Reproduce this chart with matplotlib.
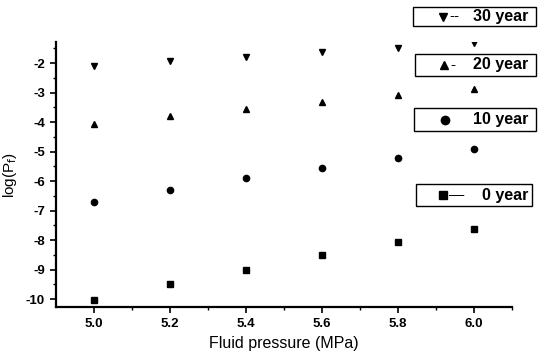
import numpy as np
import matplotlib.pyplot as plt
from matplotlib.patches import Rectangle
from matplotlib.lines import Line2D

plt.rcParams['font.family'] = ['Liberation Sans', 'DejaVu Sans']

pressure = [5.0, 5.2, 5.4, 5.6, 5.8, 6.0]
y30 = [-2.1, -1.93, -1.8, -1.63, -1.48, -1.31]
y20 = [-4.07, -3.8, -3.55, -3.3, -3.07, -2.87]
y10 = [-6.7, -6.3, -5.9, -5.57, -5.22, -4.9]
y0 = [-10.03, -9.5, -9.03, -8.52, -8.05, -7.62]
xticks = [5.0, 5.2, 5.4, 5.6, 5.8, 6.0]
yticks = [-10, -9, -8, -7, -6, -5, -4, -3, -2]

W, H = 541, 355
def fx(p):
    return p / W
def fy(p):
    return 1 - p / H

fig = plt.figure(figsize=(5.41, 3.55), dpi=100)
ax = fig.add_axes([fx(56), fy(307.3), (512 - 56) / W, (307.3 - 41.7) / H])

ax.plot(pressure, y30, 'v', color='black', ms=5)
ax.plot(pressure, y20, '^', color='black', ms=5)
ax.plot(pressure, y10, 'o', color='black', ms=4.5)
ax.plot(pressure, y0, 's', color='black', ms=4)

ax.set_xlim(4.9, 6.1)
ax.set_ylim(-10.28, -1.27)
ax.set_xticks(xticks)
ax.set_xticklabels(['%.1f' % v for v in xticks], fontsize=9.5, fontweight='bold')
ax.set_xticks([5.1, 5.3, 5.5, 5.7, 5.9, 6.1], minor=True)
ax.set_yticks(yticks)
ax.set_yticklabels([str(v) for v in yticks], fontsize=9.5, fontweight='bold')
ax.set_yticks(np.arange(-9.5, -1.2, 1.0), minor=True)
ax.spines['top'].set_visible(False)
ax.spines['right'].set_visible(False)
ax.spines['left'].set_linewidth(1.6)
ax.spines['bottom'].set_linewidth(1.6)
ax.tick_params(direction='out', length=4, width=1.2, pad=4)
ax.tick_params(which='minor', direction='out', length=2.5, width=1)
ax.set_xlabel('Fluid pressure (MPa)', fontsize=11.5, labelpad=4)
ax.set_ylabel('log(P$_{\\rm f}$)', fontsize=11, labelpad=5)

# the original has one small box per series on the right
boxes = [('v', '--', '30 year', 413, 7, 536, 26, 443),
         ('^', '-', '20 year', 415, 54, 536, 76, 444),
         ('o', '', '10 year', 414, 108, 536, 131, 445),
         ('s', '—', '0 year', 416, 184, 532, 206, 443)]
for mk, dash, lab, x0, y0p, x1, y1p, mx in boxes:
    fig.add_artist(Rectangle((fx(x0), fy(y1p)), (x1 - x0) / W, (y1p - y0p) / H,
                             transform=fig.transFigure, fc='white', ec='black',
                             lw=1, zorder=1))
    yc = fy((y0p + y1p) / 2)
    fig.add_artist(Line2D([fx(mx)], [yc], marker=mk, color='black', ms=6,
                          ls='none', transform=fig.transFigure, zorder=3))
    if dash:
        fig.text(fx(mx + 6), yc, dash, ha='left', va='center', fontsize=11, zorder=3)
    fig.text(fx(528), yc, lab, ha='right', va='center', fontsize=11.5,
             fontweight='bold', zorder=3)

fig.savefig('out.png', dpi=100)
